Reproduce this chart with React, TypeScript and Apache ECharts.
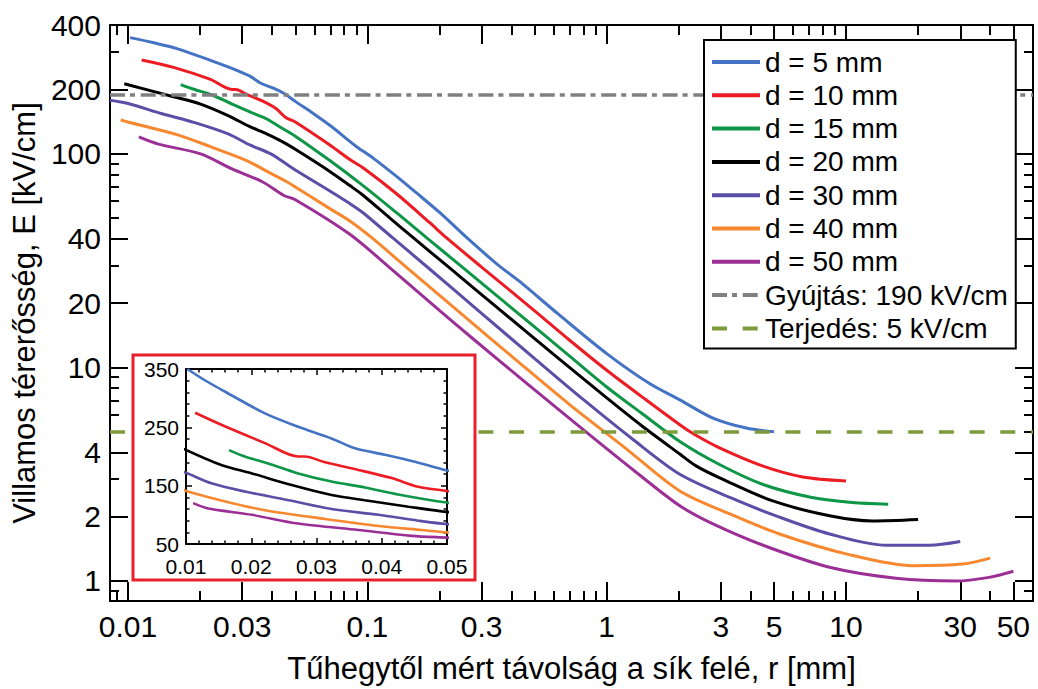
import React, { useEffect, useRef } from "react";
import * as echarts from "echarts";

type Pt = [number, number];

// Field strength E [kV/cm] versus distance r [mm] from the needle tip, per gap d
const seriesNames = [
  "d = 5 mm",
  "d = 10 mm",
  "d = 15 mm",
  "d = 20 mm",
  "d = 30 mm",
  "d = 40 mm",
  "d = 50 mm",
];
const seriesColors = ["#4472c4", "#ed1c24", "#0e9647", "#000000", "#5b4ea6", "#f7882f", "#9c2f95"];

const d5Curve: Pt[] = [
  [0.0102, 350], [0.0127, 332], [0.016, 311], [0.0221, 274], [0.0272, 251], [0.0323, 231],
  [0.0359, 214], [0.0405, 203], [0.0451, 191], [0.05, 176], [0.0592, 155], [0.0697, 136],
  [0.0902, 108], [0.1057, 95.5], [0.1324, 78.4], [0.1604, 65.6], [0.2009, 53], [0.2596, 40.6],
  [0.35, 30.3], [0.43, 25.4], [0.63, 17.7], [1.0, 11.6], [1.51, 8.4], [2.02, 7.05],
  [2.78, 5.79], [3.83, 5.2], [5.0, 5.0],
];
const d10Curve: Pt[] = [
  [0.0114, 275], [0.0155, 254], [0.0221, 223], [0.0272, 200], [0.0282, 200], [0.0313, 190],
  [0.0364, 177], [0.0415, 163], [0.0456, 148], [0.05, 141], [0.0697, 110], [0.0845, 94],
  [0.0959, 86], [0.1324, 65], [0.1822, 47.6], [0.2131, 40.6], [0.3, 29.5], [0.5, 18.4],
  [0.7, 13.4], [1.0, 9.7], [1.4, 7.3], [2.02, 5.39], [2.33, 4.85], [2.96, 4.2], [4.5, 3.45],
  [6.6, 3.07], [10, 2.94],
];
const d15Curve: Pt[] = [
  [0.0166, 211], [0.019, 200], [0.0226, 188], [0.0272, 171], [0.0323, 157], [0.0374, 147],
  [0.0425, 135], [0.05, 121], [0.0697, 93], [0.0959, 71], [0.1324, 53], [0.1766, 40.5],
  [0.25, 29.4], [0.4, 19], [0.7, 11.3], [1.0, 8.1], [1.4, 6.1], [2.02, 4.5], [2.96, 3.51],
  [4.5, 2.83], [7.2, 2.46], [10.6, 2.33], [15, 2.29],
];
const d20Curve: Pt[] = [
  [0.00965, 213], [0.0155, 185], [0.0201, 171], [0.0262, 151], [0.0323, 134], [0.0374, 125],
  [0.0441, 114], [0.05, 105], [0.0697, 82.7], [0.0845, 71], [0.0959, 64], [0.1243, 50],
  [0.155, 40.6], [0.22, 29.3], [0.35, 19], [0.6, 11.5], [1.0, 7.2], [1.4, 5.33], [2.02, 3.93],
  [2.37, 3.45], [3.06, 2.99], [4.94, 2.37], [8.53, 2.02], [12.9, 1.91], [20, 1.94],
];
const d30Curve: Pt[] = [
  [0.0084, 178], [0.01, 172], [0.0139, 154], [0.019, 140], [0.0262, 124], [0.0323, 110],
  [0.0395, 100], [0.0456, 90], [0.05, 84], [0.0697, 67], [0.0845, 58.5], [0.0959, 53],
  [0.127, 40.6], [0.18, 29.2], [0.3, 17.9], [0.5, 11], [0.8, 7.06], [1.3, 4.56], [2.02, 3.16],
  [3.27, 2.46], [5.27, 1.99], [8.53, 1.66], [14.7, 1.47], [22.3, 1.47], [30, 1.53],
];
const d40Curve: Pt[] = [
  [0.00932, 144], [0.01, 141], [0.016, 123], [0.0221, 108], [0.0313, 93], [0.0395, 81],
  [0.0461, 74], [0.05, 70], [0.0697, 55.4], [0.0845, 48.5], [0.104, 40.6], [0.15, 28.6],
  [0.25, 17.6], [0.4, 11.3], [0.7, 6.7], [1.2, 4.18], [2.02, 2.64], [3.27, 2.06], [5.27, 1.66],
  [10, 1.34], [19, 1.18], [30.8, 1.2], [40, 1.28],
];
const d50Curve: Pt[] = [
  [0.0111, 120], [0.0134, 111], [0.0201, 100], [0.0272, 85], [0.0364, 74], [0.0446, 64],
  [0.05, 61], [0.0845, 42], [0.13, 28], [0.2, 18.5], [0.281, 13.4], [0.45, 8.65], [0.8, 5.1],
  [1.3, 3.29], [2.02, 2.25], [2.78, 1.85], [4.5, 1.47], [8.53, 1.16], [16.2, 1.03], [28.8, 1.0],
  [39.6, 1.04], [50, 1.11],
];
const curves = [d5Curve, d10Curve, d15Curve, d20Curve, d30Curve, d40Curve, d50Curve];

// Threshold fields
const ignitionName = "Gyújtás: 190 kV/cm";
const ignitionField = 190;
const propagationName = "Terjedés: 5 kV/cm";
const propagationField = 5;

// Tick positions
const xMajorTicks = [0.01, 0.03, 0.1, 0.3, 1, 3, 5, 10, 30, 50];
const xMinorTicks = [0.009, 0.02, 0.04, 0.05, 0.06, 0.07, 0.08, 0.09, 0.2, 0.4, 0.5, 0.6, 0.7, 0.8, 0.9, 2, 4, 6, 7, 8, 9, 20, 40];
const yMajorTicks = [400, 200, 100, 40, 20, 10, 4, 2, 1];
const yMinorTicks = [300, 90, 80, 70, 60, 50, 30, 9, 8, 7, 6, 5, 3, 0.9];
const insetYMajorTicks = [50, 150, 250, 350];
const insetYMinorTicks = [70, 90, 110, 130, 170, 190, 210, 230, 270, 290, 310, 330];

const X_MIN = 0.00841;
const X_MAX = 60.4;
const Y_MIN = 0.806;
const Y_MAX = 401;

const FONT = "'Liberation Sans', Arial, Helvetica, sans-serif";
const BLACK = "#000";
const GRAY = "#808080";
const OLIVE = "#7f9a3a";
const INSET_RED = "#e8202a";

const fmt = (v: number) => String(Number(Number(v).toPrecision(4)));

function logAxis(
  dim: "x" | "y",
  position: string,
  min: number,
  max: number,
  ticks: number[],
  len: number,
  opts: { line?: boolean; labels?: number[]; name?: string } = {}
) {
  const axis: any = {
    type: "log",
    gridIndex: 0,
    position,
    min,
    max,
    axisLine: { show: !!opts.line, lineStyle: { color: BLACK, width: 2 } },
    axisTick: {
      show: true,
      inside: true,
      length: len,
      customValues: ticks,
      lineStyle: { color: BLACK, width: 2 },
    },
    axisLabel: opts.labels
      ? {
          show: true,
          customValues: opts.labels,
          formatter: fmt,
          fontSize: 30,
          color: BLACK,
          fontFamily: FONT,
          margin: dim === "x" ? 10 : 9,
        }
      : { show: false },
    splitLine: { show: false },
    minorTick: { show: false },
    minorSplitLine: { show: false },
    z: 0,
  };
  if (opts.name) {
    axis.name = opts.name;
    axis.nameLocation = "middle";
    axis.nameGap = dim === "x" ? 52 : 64;
    axis.nameTextStyle = { fontSize: 31, color: BLACK, fontFamily: FONT };
    if (dim === "y") axis.nameRotate = 90;
  }
  return axis;
}

function buildOption() {
  const xAxis: any[] = [
    logAxis("x", "bottom", X_MIN, X_MAX, xMajorTicks, 19, {
      line: true,
      labels: xMajorTicks,
      name: "Tűhegytől mért távolság a sík felé, r [mm]",
    }),
    logAxis("x", "bottom", X_MIN, X_MAX, xMinorTicks, 10),
    logAxis("x", "top", X_MIN, X_MAX, xMajorTicks, 19, { line: true }),
    logAxis("x", "top", X_MIN, X_MAX, xMinorTicks, 10),
  ];
  const yAxis: any[] = [
    logAxis("y", "left", Y_MIN, Y_MAX, yMajorTicks, 18, {
      line: true,
      labels: yMajorTicks,
      name: "Villamos térerősség, E [kV/cm]",
    }),
    logAxis("y", "left", Y_MIN, Y_MAX, yMinorTicks, 9),
    logAxis("y", "right", Y_MIN, Y_MAX, yMajorTicks, 18, { line: true }),
    logAxis("y", "right", Y_MIN, Y_MAX, yMinorTicks, 9),
  ];

  // Inset: linear close-up of the region near the tip
  const insetTickStyle = { color: BLACK, width: 1.5 };
  const insetLabel = { fontSize: 21, color: BLACK, fontFamily: FONT };
  const insetX = (position: string, labels: boolean) => ({
    type: "value",
    gridIndex: 1,
    position,
    min: 0.01,
    max: 0.05,
    interval: 0.01,
    axisLine: { show: true, lineStyle: { color: BLACK, width: 2 } },
    axisTick: { show: true, inside: true, length: 6, lineStyle: insetTickStyle },
    minorTick: { show: true, splitNumber: 5, length: 3.5, lineStyle: insetTickStyle },
    axisLabel: labels
      ? { show: true, ...insetLabel, lineHeight: 18, margin: 13, formatter: (v: number) => v.toFixed(2) }
      : { show: false },
    splitLine: { show: false },
    minorSplitLine: { show: false },
    z: 20,
  });
  const insetY = (position: string, ticks: number[], len: number, line: boolean, labels: boolean) => ({
    type: "value",
    gridIndex: 1,
    position,
    min: 50,
    max: 350,
    axisLine: { show: line, lineStyle: { color: BLACK, width: 2 } },
    axisTick: { show: true, inside: true, length: len, customValues: ticks, lineStyle: insetTickStyle },
    axisLabel: labels
      ? { show: true, customValues: insetYMajorTicks, ...insetLabel, lineHeight: 16, margin: 7 }
      : { show: false },
    splitLine: { show: false },
    minorTick: { show: false },
    z: 20,
  });
  xAxis.push(insetX("bottom", true), insetX("top", false));
  yAxis.push(
    insetY("left", insetYMajorTicks, 6, true, true),
    insetY("left", insetYMinorTicks, 3.5, false, false),
    insetY("right", insetYMajorTicks, 6, true, false),
    insetY("right", insetYMinorTicks, 3.5, false, false)
  );

  const ignitionDash = [15, 5, 5, 5.7];
  const propagationDash = [15, 15.7];

  const series: any[] = [];
  curves.forEach((data, i) => {
    series.push({
      name: seriesNames[i],
      type: "line",
      xAxisIndex: 0,
      yAxisIndex: 0,
      data,
      symbol: "none",
      smooth: 0.3,
      lineStyle: { color: seriesColors[i], width: 3 },
      itemStyle: { color: seriesColors[i] },
      z: 3,
      silent: true,
    });
  });
  series.push({
    name: ignitionName,
    type: "line",
    xAxisIndex: 0,
    yAxisIndex: 0,
    data: [],
    symbol: "none",
    lineStyle: { color: GRAY, width: 3.5, type: ignitionDash },
    itemStyle: { color: GRAY },
    z: 2,
    markLine: {
      silent: true,
      symbol: "none",
      label: { show: false },
      lineStyle: { color: GRAY, width: 3.5, type: ignitionDash },
      data: [{ yAxis: ignitionField }],
    },
  });
  series.push({
    name: propagationName,
    type: "line",
    xAxisIndex: 0,
    yAxisIndex: 0,
    data: [],
    symbol: "none",
    lineStyle: { color: OLIVE, width: 3.5, type: propagationDash },
    itemStyle: { color: OLIVE },
    z: 2,
    markLine: {
      silent: true,
      symbol: "none",
      label: { show: false },
      lineStyle: { color: OLIVE, width: 3.5, type: propagationDash },
      data: [{ yAxis: propagationField }],
    },
  });
  curves.forEach((data, i) => {
    series.push({
      name: seriesNames[i],
      type: "line",
      xAxisIndex: 4,
      yAxisIndex: 4,
      data,
      symbol: "none",
      smooth: 0.3,
      clip: true,
      lineStyle: { color: seriesColors[i], width: 2.6 },
      itemStyle: { color: seriesColors[i] },
      z: 21,
      silent: true,
    });
  });
  series.push({
    name: ignitionName,
    type: "line",
    xAxisIndex: 4,
    yAxisIndex: 4,
    data: [],
    symbol: "none",
    lineStyle: { color: GRAY, width: 3, type: [10, 4, 4, 4] },
    z: 20,
    markLine: {
      silent: true,
      symbol: "none",
      label: { show: false },
      lineStyle: { color: GRAY, width: 3, type: [10, 4, 4, 4] },
      data: [{ yAxis: ignitionField }],
    },
  });

  return {
    animation: false,
    backgroundColor: "#fff",
    textStyle: { fontFamily: FONT },
    grid: [
      { left: 110, top: 25, width: 923, height: 579, containLabel: false },
      { left: 186, top: 369, width: 261, height: 175, containLabel: false },
    ],
    xAxis,
    yAxis,
    graphic: [
      {
        type: "rect",
        shape: { x: 133, y: 355, width: 342, height: 225 },
        style: { fill: "#fff", stroke: INSET_RED, lineWidth: 3 },
        z: 10,
        silent: true,
      },
    ],
    legend: {
      orient: "vertical",
      left: 704,
      top: 40,
      data: [...seriesNames, ignitionName, propagationName],
      itemWidth: 48,
      itemHeight: 14,
      itemGap: 3.3,
      padding: [7, 8, 5, 6],
      backgroundColor: "#fff",
      borderColor: BLACK,
      borderWidth: 2,
      borderRadius: 0,
      selectedMode: false,
      itemStyle: { opacity: 0 },
      lineStyle: { width: 4 },
      textStyle: { fontSize: 28, lineHeight: 30, color: BLACK, fontFamily: FONT },
      z: 30,
    },
    series,
  };
}

export default function App() {
  const ref = useRef<HTMLDivElement>(null);
  useEffect(() => {
    if (!ref.current) return;
    const chart = echarts.init(ref.current, null, { renderer: "svg" });
    chart.setOption(buildOption() as any);
    return () => chart.dispose();
  }, []);
  return (
    <div
      ref={ref}
      style={{ position: "absolute", left: 0, top: 0, width: 1038, height: 689, background: "#fff" }}
    />
  );
}
